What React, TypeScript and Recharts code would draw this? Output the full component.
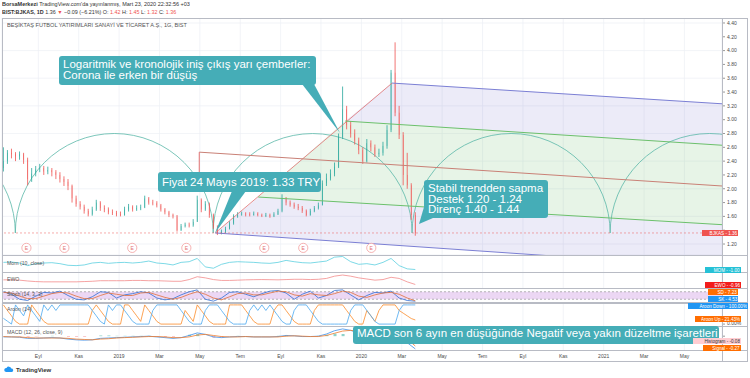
import React from "react";
import {
  ComposedChart,
  Bar,
  Line,
  Area,
  XAxis,
  YAxis,
  CartesianGrid,
  ReferenceLine,
  ReferenceArea,
  ReferenceDot,
  Cell,
} from "recharts";

const FONT = "'Liberation Sans', Arial, sans-serif";

// time axis in months counted from Jan 2018 (8 = Eyl 2018)
const X_DOMAIN: [number, number] = [6.2, 41.86];
const monthTicks = [8, 10, 12, 14, 16, 18, 20, 22, 24, 26, 28, 30, 32, 34, 36, 38, 40];
const monthLabels = ["Eyl", "Kas", "2019", "Mar", "May", "Tem", "Eyl", "Kas", "2020", "Mar", "May", "Tem", "Eyl", "Kas", "2021", "Mar", "May"];

const PRICE_DOMAIN: [number, number] = [1.041, 4.472];
const priceTicks = [1.2, 1.4, 1.6, 1.8, 2.0, 2.2, 2.4, 2.6, 2.8, 3.0, 3.2, 3.4, 3.6, 3.8, 4.0, 4.2, 4.4];
const lastPrice = 1.36;

// candles, one every 0.2 month; open = previous close
const candleStart = 6.27;
const candleStep = 0.2;
const firstOpen = 2.3;
const closes = [
  2.4, 2.52, 2.5, 2.47, 2.5, 2.42, 2.14, 2.22, 2.28, 2.3,
  2.25, 2.27, 2.24, 2.2, 2.14, 2.1, 2.04, 1.86, 1.78, 1.74,
  1.68, 1.63, 1.7, 1.8, 1.72, 1.7, 1.66, 1.65, 1.63, 1.62,
  1.7, 1.74, 1.7, 1.72, 1.73, 1.86, 1.8, 1.79, 1.76, 1.7,
  1.66, 1.62, 1.6, 1.4, 1.46, 1.48, 1.47, 1.52, 1.84, 1.7,
  1.78, 1.62, 1.45, 1.36, 1.38, 1.42, 1.5, 1.6, 1.63, 1.64,
  1.63, 1.62, 1.64, 1.62, 1.61, 1.62, 1.6, 1.63, 1.68, 1.86,
  1.8, 1.77, 1.74, 1.72, 1.68, 1.62, 1.68, 1.72, 1.76, 2.08,
  2.15, 2.22, 2.32, 2.75, 3.15, 2.92, 2.8, 2.7, 2.56, 2.4,
  2.66, 2.6, 2.5, 2.52, 2.62, 2.85, 3.68, 3.1, 2.78, 2.2,
  2.05, 1.62, 1.36,
];
const highs = [
  2.6, 2.56, 2.58, 2.53, 2.54, 2.52, 2.45, 2.3, 2.33, 2.36,
  2.33, 2.32, 2.3, 2.27, 2.24, 2.18, 2.14, 2.06, 1.9, 1.82,
  1.77, 1.71, 1.74, 1.84, 1.82, 1.76, 1.73, 1.7, 1.68, 1.67,
  1.74, 1.78, 1.76, 1.76, 1.77, 1.9, 1.88, 1.84, 1.82, 1.78,
  1.72, 1.68, 1.64, 1.62, 1.49, 1.51, 1.51, 1.56, 1.9, 1.86,
  1.82, 1.8, 1.64, 1.47, 1.41, 1.45, 1.53, 1.63, 1.66, 1.67,
  1.66, 1.66, 1.67, 1.66, 1.64, 1.65, 1.64, 1.66, 1.71, 1.92,
  1.88, 1.83, 1.8, 1.78, 1.75, 1.7, 1.71, 1.75, 1.8, 2.12,
  2.22, 2.28, 2.38, 2.8, 3.48, 3.2, 2.98, 2.86, 2.74, 2.6,
  2.72, 2.7, 2.64, 2.58, 2.68, 2.92, 3.72, 4.12, 3.2, 2.82,
  2.52, 2.08, 1.66,
];
const lows = [
  2.25, 2.36, 2.44, 2.4, 2.42, 2.36, 2.05, 2.1, 2.18, 2.24,
  2.2, 2.21, 2.18, 2.14, 2.09, 2.04, 1.98, 1.8, 1.74, 1.7,
  1.64, 1.6, 1.61, 1.68, 1.68, 1.66, 1.63, 1.62, 1.6, 1.6,
  1.61, 1.67, 1.67, 1.68, 1.69, 1.72, 1.77, 1.76, 1.73, 1.67,
  1.63, 1.59, 1.57, 1.38, 1.39, 1.44, 1.44, 1.45, 1.52, 1.66,
  1.68, 1.58, 1.42, 1.33, 1.34, 1.36, 1.41, 1.48, 1.58, 1.61,
  1.6, 1.6, 1.61, 1.6, 1.59, 1.59, 1.58, 1.59, 1.62, 1.66,
  1.76, 1.74, 1.71, 1.69, 1.65, 1.6, 1.61, 1.66, 1.7, 1.76,
  2.04, 2.12, 2.18, 2.3, 2.72, 2.86, 2.74, 2.64, 2.5, 2.36,
  2.38, 2.54, 2.46, 2.46, 2.48, 2.58, 2.82, 3.05, 2.72, 2.05,
  2.0, 1.55, 1.32,
];

// indicators, one every 0.4 month
const indStart = 6.27;
const indStep = 0.4;
const mom = [
  0.1, 0.15, 0, -0.4, -0.1, 0, 0.05, -0.1, -0.35, -0.4,
  -0.3, 0, 0.1, -0.05, 0.05, 0.1, 0, 0.1, 0.3, 0,
  -0.1, -0.3, 0.1, 0.2, 0.7, -0.6, -0.8, -0.2, 0.1, 0.2,
  0.15, 0.1, 0, -0.05, 0.1, 0.4, 0.2, 0.05, 0, 0.15,
  0.3, 0.9, 1.0, 0.2, -0.2, -0.1, -0.3, 0.1, 0.7, -0.4,
  -0.9, -1.0,
];
const ewo = [
  -0.15, -0.15, -0.2, -0.35, -0.45, -0.5, -0.5, -0.5, -0.5, -0.5,
  -0.45, -0.4, -0.3, -0.3, -0.3, -0.3, -0.25, -0.25, -0.3, -0.3,
  -0.35, -0.4, -0.4, -0.1, 0.4, 0.2, -0.1, -0.25, -0.25, -0.2,
  -0.15, -0.12, -0.1, -0.12, -0.15, -0.1, -0.05, -0.05, -0.1, -0.05,
  0.1, 0.5, 0.7, 0.5, 0.2, 0, -0.2, -0.1, 0.3, 0.1,
  -0.5, -0.96,
];
const stochK = [
  80, 60, 20, 10, 45, 75, 70, 85, 50, 20,
  15, 40, 80, 75, 30, 55, 65, 80, 70, 30,
  15, 25, 55, 80, 95, 20, 5, 30, 75, 80,
  60, 40, 65, 85, 90, 70, 20, 60, 85, 30,
  50, 90, 95, 55, 15, 50, 75, 70, 85, 30,
  10, 4.53,
];
const stochD = [
  75, 70, 45, 25, 25, 45, 65, 75, 70, 45,
  25, 25, 50, 70, 60, 50, 50, 70, 75, 55,
  35, 20, 35, 60, 80, 60, 30, 15, 40, 65,
  70, 55, 55, 70, 85, 80, 55, 45, 65, 55,
  50, 65, 85, 75, 45, 35, 55, 70, 75, 60,
  30, 7.23,
];
const macdLine = [
  -0.02, -0.02, -0.03, -0.06, -0.06, -0.05, -0.04, -0.05, -0.08, -0.1,
  -0.11, -0.1, -0.06, -0.05, -0.04, -0.03, -0.02, -0.01, 0, -0.02,
  -0.04, -0.06, -0.04, 0.02, 0.09, 0.05, -0.02, -0.04, -0.02, -0.01,
  -0.01, -0.02, -0.02, -0.02, -0.01, 0.02, 0.01, -0.01, -0.01, 0,
  0.06, 0.15, 0.2, 0.16, 0.08, 0.02, 0, 0, 0.06, 0,
  -0.18, -0.35,
];
const signalLine = [
  -0.01, -0.02, -0.02, -0.04, -0.05, -0.05, -0.05, -0.05, -0.06, -0.08,
  -0.09, -0.1, -0.08, -0.07, -0.05, -0.04, -0.03, -0.02, -0.01, -0.01,
  -0.02, -0.04, -0.04, -0.02, 0.03, 0.05, 0.02, -0.01, -0.02, -0.02,
  -0.01, -0.02, -0.02, -0.02, -0.02, 0, 0.01, 0, -0.01, -0.01,
  0.02, 0.08, 0.14, 0.16, 0.13, 0.08, 0.04, 0.02, 0.03, 0.02,
  -0.08, -0.27,
];
const histogram = [
  -0.01, 0, -0.01, -0.02, -0.01, 0, 0.01, 0, -0.02, -0.02,
  -0.02, 0, 0.02, 0.02, 0.01, 0.01, 0.01, 0.01, 0.01, -0.01,
  -0.02, -0.02, 0, 0.04, 0.06, 0, -0.04, -0.03, 0, 0.01,
  0, 0, 0, 0, 0.01, 0.02, 0, -0.01, 0, 0.01,
  0.04, 0.07, 0.06, 0, -0.05, -0.06, -0.04, -0.02, 0.03, -0.02,
  -0.1, -0.08,
];
// Aroon (14), same spacing as candles
const aroonUp = [
  100, 71, 43, 14, 0, 0, 0, 100, 71, 43,
  14, 0, 0, 0, 0, 0, 0, 0, 0, 0,
  0, 0, 71, 100, 71, 43, 14, 0, 0, 0,
  100, 100, 71, 43, 14, 100, 71, 43, 14, 0,
  0, 0, 0, 0, 0, 71, 43, 14, 100, 71,
  43, 14, 0, 0, 0, 0, 100, 100, 100, 100,
  71, 43, 14, 0, 0, 0, 0, 71, 100, 100,
  71, 43, 14, 0, 0, 0, 0, 71, 100, 100,
  100, 100, 100, 100, 100, 71, 43, 14, 0, 0,
  71, 43, 14, 71, 100, 100, 100, 100, 71, 57,
  43, 29, 21.43,
];
const aroonDown = [
  30, 15, 0, 100, 71, 43, 100, 71, 43, 14,
  100, 71, 100, 71, 100, 100, 100, 100, 100, 100,
  100, 100, 71, 43, 14, 0, 100, 71, 100, 100,
  71, 43, 14, 0, 0, 0, 0, 71, 100, 100,
  100, 100, 100, 100, 71, 43, 14, 0, 0, 0,
  71, 100, 100, 100, 71, 43, 14, 0, 0, 0,
  0, 71, 100, 71, 100, 71, 100, 71, 43, 14,
  0, 0, 71, 100, 100, 100, 71, 43, 14, 0,
  0, 0, 0, 0, 0, 0, 71, 100, 100, 100,
  71, 43, 14, 0, 0, 0, 0, 0, 71, 100,
  100, 100, 100,
];

// half circles (time cycles)
const arcFeet = [-3.0, 6.86, 16.66, 26.51, 36.32, 46.17];
const arcBase = 1.36;
const arcTop = 2.8;

// earnings dates
const earnings = [7.41, 9.29, 12.65, 15.33, 19.19, 21.12, 24.49];
const earningsLevel = 1.144;

// fib channel drawn from the May 2019 low to the Feb 2020 top
const diagonal = [[16.76, 1.36], [25.52, 3.53]];
const topLine = [[25.52, 3.53], [41.86, 3.23]];
const upperGreen = [[23.2, 2.98], [41.86, 2.63]];
const midRed = [[15.97, 2.53], [41.86, 2.04]];
const startRed = [[15.97, 2.53], [15.97, 2.0]];
const lowerGreen = [[18.89, 1.88], [41.86, 1.48]];
const bottomLine = [[16.76, 1.36], [41.86, 0.86]];
const topBand = [[23.2, 2.98, 2.98], [25.52, 2.936, 3.53], [41.86, 2.63, 3.23]];
const middleBand = [[18.89, 1.88, 1.88], [23.2, 1.805, 2.98], [41.86, 1.48, 2.63]];
const bottomBand = [[16.76, 1.36, 1.36], [18.89, 1.318, 1.88], [41.86, 0.86, 1.48]];

const toPts = (pts: number[][]) => pts.map(([m, v]) => ({ m, v }));
const toBand = (pts: number[][]) => pts.map(([m, lo, hi]) => ({ m, v: [lo, hi] }));

const candles = closes.map((close, i) => {
  const open = i === 0 ? firstOpen : closes[i - 1];
  return { m: candleStart + i * candleStep, open, close, range: [lows[i], highs[i]] };
});

const indRows = mom.map((v, j) => ({
  m: indStart + j * indStep,
  mom: v,
  ewo: ewo[j],
  k: stochK[j],
  d: stochD[j],
  macd: macdLine[j],
  signal: signalLine[j],
  hist: histogram[j],
}));

const aroonRows = aroonUp.map((u, i) => ({ m: candleStart + i * candleStep, up: u, down: aroonDown[i] }));

const UP = "#26a69a";
const DOWN = "#ef5350";
const TEAL = "#45adb7";

function Candle(props: any) {
  const { x, y, width, height, payload } = props;
  const top = Math.min(y, y + height);
  const h = Math.abs(height);
  const [lo, hi] = payload.range;
  const toY = (v: number) => top + ((hi - v) / (hi - lo)) * h;
  const color = payload.close >= payload.open ? UP : DOWN;
  const b1 = toY(Math.max(payload.open, payload.close));
  const b2 = toY(Math.min(payload.open, payload.close));
  const cx = x + width / 2;
  return (
    <g>
      <line x1={cx} x2={cx} y1={top} y2={top + h} stroke={color} strokeWidth={0.8} />
      <rect x={x} y={b1} width={width} height={Math.max(b2 - b1, 0.8)} fill={color} />
    </g>
  );
}

function HalfCircle(props: any) {
  const { x, y, width, height, clipPath } = props;
  return (
    <path
      d={`M${x},${y + height} A${width / 2},${height} 0 0 1 ${x + width},${y + height}`}
      fill="none"
      stroke="#5bb8a8"
      strokeWidth={0.8}
      clipPath={clipPath}
    />
  );
}

function EarningsMark(props: any) {
  const { cx, cy } = props;
  return (
    <g>
      <circle cx={cx} cy={cy} r={4.6} fill="#fff" stroke="#f2a0a0" strokeWidth={0.8} />
      <text x={cx} y={cy + 1.8} textAnchor="middle" fontSize={5} fill="#e57373" fontFamily={FONT}>
        E
      </text>
    </g>
  );
}

const axisTick = { fontSize: 5, fill: "#4a4a4a", fontFamily: FONT };
const margin = { top: 0, right: 0, bottom: 0, left: 2 };

// tiny text is drawn at double size and scaled down so its width is not rounded
function Tiny({ left, top, size, color = "#555", weight, children }: any) {
  return (
    <div
      style={{
        position: "absolute",
        left,
        top,
        fontSize: size * 2,
        lineHeight: 1.2,
        color,
        fontWeight: weight,
        whiteSpace: "nowrap",
        transform: "scale(0.5)",
        transformOrigin: "0 0",
      }}
    >
      {children}
    </div>
  );
}

function Badge({ left, top, width, bg, color = "#fff", children }: any) {
  return (
    <div style={{ position: "absolute", left, top, width, height: 6, background: bg, overflow: "hidden" }}>
      <div
        style={{
          position: "absolute",
          right: 1,
          top: 0,
          fontSize: 9.2,
          lineHeight: "12px",
          color,
          whiteSpace: "nowrap",
          transform: "scale(0.5)",
          transformOrigin: "100% 0",
        }}
      >
        {children}
      </div>
    </div>
  );
}

function Callout({ left, top, width, height, lineHeight = 11, padTop = 3, children }: any) {
  return (
    <div
      style={{
        position: "absolute",
        left,
        top,
        width,
        height,
        background: TEAL,
        borderRadius: 3,
        color: "#fff",
        fontSize: 11.5,
        lineHeight: `${lineHeight}px`,
        padding: `${padTop}px 4px 0 4px`,
        boxSizing: "border-box",
        whiteSpace: "nowrap",
      }}
    >
      {children}
    </div>
  );
}

const hLine = (top: number, h = 1) => (
  <div style={{ position: "absolute", left: 2, top, width: 746, height: h, background: "#b8bbc4" }} />
);

export default function App() {
  return (
    <div
      style={{
        position: "absolute",
        left: 0,
        top: 0,
        width: 750,
        height: 378,
        background: "#fff",
        fontFamily: FONT,
        overflow: "hidden",
      }}
    >
      <Tiny left={2} top={1} size={5.5} color="#333">
        <b>BorsaMerkezi</b> TradingView.com'da yayınlanmış, Mart 23, 2020 22:32:56 +03
      </Tiny>
      <Tiny left={2} top={9} size={5.4} color="#333">
        <b>BIST:BJKAS, 1D</b> 1.36 <span style={{ color: DOWN }}>▼</span> −0.09 (−6.21%) O: <span style={{ color: DOWN }}>1.42</span> H:{" "}
        <span style={{ color: DOWN }}>1.45</span> L: <span style={{ color: DOWN }}>1.32</span> C: <span style={{ color: DOWN }}>1.36</span>
      </Tiny>

      {/* main price pane */}
      <div style={{ position: "absolute", left: 0, top: 18 }}>
        <ComposedChart width={750} height={237} data={candles} margin={margin}>
          <CartesianGrid stroke="#eceff5" strokeWidth={0.7} />
          <XAxis type="number" dataKey="m" domain={X_DOMAIN} allowDataOverflow ticks={monthTicks} hide />
          <YAxis
            orientation="right"
            width={28}
            domain={PRICE_DOMAIN}
            allowDataOverflow
            ticks={priceTicks}
            tick={axisTick}
            tickFormatter={(v: number) => (Math.abs(v - 1.4) < 0.01 ? "" : v.toFixed(2))}
            tickSize={3}
            tickLine={{ stroke: "#999" }}
            axisLine={false}
          />
          <Area data={toBand(topBand)} dataKey="v" type="linear" fill="#7a6fd0" fillOpacity={0.14} stroke="none" isAnimationActive={false} />
          <Area data={toBand(middleBand)} dataKey="v" type="linear" fill="#7cc47c" fillOpacity={0.18} stroke="none" isAnimationActive={false} />
          <Area data={toBand(bottomBand)} dataKey="v" type="linear" fill="#7a6fd0" fillOpacity={0.14} stroke="none" isAnimationActive={false} />
          {arcFeet.slice(0, -1).map((foot, i) => (
            <ReferenceArea key={`arc${i}`} x1={foot} x2={arcFeet[i + 1]} y1={arcBase} y2={arcTop} ifOverflow="hidden" shape={HalfCircle} />
          ))}
          <Line data={toPts(diagonal)} dataKey="v" stroke="#e07070" strokeWidth={0.8} dot={false} activeDot={false} isAnimationActive={false} />
          <Line data={toPts(topLine)} dataKey="v" stroke="#7b7fd4" strokeWidth={1} dot={false} activeDot={false} isAnimationActive={false} />
          <Line data={toPts(upperGreen)} dataKey="v" stroke="#6cc06c" strokeWidth={1} dot={false} activeDot={false} isAnimationActive={false} />
          <Line data={toPts(midRed)} dataKey="v" stroke="#c98076" strokeWidth={1} dot={false} activeDot={false} isAnimationActive={false} />
          <Line data={toPts(startRed)} dataKey="v" stroke="#e07070" strokeWidth={1} dot={false} activeDot={false} isAnimationActive={false} />
          <Line data={toPts(lowerGreen)} dataKey="v" stroke="#6cc06c" strokeWidth={1} dot={false} activeDot={false} isAnimationActive={false} />
          <Line data={toPts(bottomLine)} dataKey="v" stroke="#7b7fd4" strokeWidth={1} dot={false} activeDot={false} isAnimationActive={false} />
          <ReferenceLine y={lastPrice} stroke={DOWN} strokeOpacity={0.6} strokeDasharray="2 2" strokeWidth={0.8} />
          <Bar dataKey="range" barSize={3.2} shape={Candle} isAnimationActive={false} />
          {earnings.map((m) => (
            <ReferenceDot key={`e${m}`} x={m} y={earningsLevel} r={4.6} shape={EarningsMark} />
          ))}
        </ComposedChart>
      </div>

      {/* Mom */}
      <div style={{ position: "absolute", left: 0, top: 255 }}>
        <ComposedChart width={750} height={17} data={indRows} margin={margin}>
          <CartesianGrid stroke="#eceff5" strokeWidth={0.7} horizontal={false} />
          <XAxis type="number" dataKey="m" domain={X_DOMAIN} allowDataOverflow ticks={monthTicks} hide />
          <YAxis orientation="right" width={28} domain={[-1.38, 1.23]} allowDataOverflow ticks={[0]} tick={axisTick} tickFormatter={() => "0.00"} tickSize={3} tickLine={{ stroke: "#999" }} axisLine={false} />
          <Line dataKey="mom" stroke="#5ccfe0" strokeWidth={0.8} dot={false} activeDot={false} isAnimationActive={false} />
        </ComposedChart>
      </div>

      {/* EWO */}
      <div style={{ position: "absolute", left: 0, top: 272 }}>
        <ComposedChart width={750} height={16} data={indRows} margin={margin}>
          <CartesianGrid stroke="#eceff5" strokeWidth={0.7} horizontal={false} />
          <XAxis type="number" dataKey="m" domain={X_DOMAIN} allowDataOverflow ticks={monthTicks} hide />
          <YAxis orientation="right" width={28} domain={[-1.58, 1.23]} allowDataOverflow ticks={[0]} tick={axisTick} tickFormatter={() => "0.00"} tickSize={3} tickLine={{ stroke: "#999" }} axisLine={false} />
          <Line dataKey="ewo" stroke="#f28b8b" strokeWidth={0.8} dot={false} activeDot={false} isAnimationActive={false} />
        </ComposedChart>
      </div>

      {/* Stoch */}
      <div style={{ position: "absolute", left: 0, top: 288 }}>
        <ComposedChart width={750} height={15} data={indRows} margin={margin}>
          <XAxis type="number" dataKey="m" domain={X_DOMAIN} allowDataOverflow ticks={monthTicks} hide />
          <YAxis orientation="right" width={28} domain={[-10, 110]} allowDataOverflow ticks={[]} axisLine={false} />
          <ReferenceArea y1={20} y2={80} fill="#c98de0" fillOpacity={0.35} stroke="none" />
          <ReferenceLine y={80} stroke="#888" strokeDasharray="2 2" strokeWidth={0.6} />
          <ReferenceLine y={20} stroke="#888" strokeDasharray="2 2" strokeWidth={0.6} />
          <Line dataKey="k" stroke="#2f6fd6" strokeWidth={0.8} dot={false} activeDot={false} isAnimationActive={false} />
          <Line dataKey="d" stroke="#e0703a" strokeWidth={0.8} dot={false} activeDot={false} isAnimationActive={false} />
        </ComposedChart>
      </div>

      {/* Aroon */}
      <div style={{ position: "absolute", left: 0, top: 303 }}>
        <ComposedChart width={750} height={23} data={aroonRows} margin={margin}>
          <CartesianGrid stroke="#eceff5" strokeWidth={0.7} horizontal={false} />
          <XAxis type="number" dataKey="m" domain={X_DOMAIN} allowDataOverflow ticks={monthTicks} hide />
          <YAxis orientation="right" width={28} domain={[-10, 110]} allowDataOverflow ticks={[0]} tick={axisTick} tickFormatter={() => "0.00%"} tickSize={3} tickLine={{ stroke: "#999" }} axisLine={false} />
          <Line dataKey="up" stroke="#fb8c2a" strokeWidth={0.8} dot={false} activeDot={false} isAnimationActive={false} />
          <Line dataKey="down" stroke="#4aa8f0" strokeWidth={0.8} dot={false} activeDot={false} isAnimationActive={false} />
        </ComposedChart>
      </div>

      {/* MACD + time axis */}
      <div style={{ position: "absolute", left: 0, top: 326 }}>
        <ComposedChart width={750} height={40} data={indRows} margin={margin}>
          <CartesianGrid stroke="#eceff5" strokeWidth={0.7} horizontal={false} />
          <XAxis
            type="number"
            dataKey="m"
            domain={X_DOMAIN}
            allowDataOverflow
            ticks={monthTicks}
            height={16}
            tick={axisTick}
            tickFormatter={(v: number) => monthLabels[monthTicks.indexOf(v)] ?? ""}
            tickLine={false}
            tickSize={0}
            tickMargin={4}
            axisLine={false}
          />
          <YAxis orientation="right" width={28} domain={[-0.38, 0.28]} allowDataOverflow ticks={[0]} tick={axisTick} tickFormatter={() => ""} tickSize={3} tickLine={{ stroke: "#999" }} axisLine={false} />
          <Bar dataKey="hist" barSize={3} isAnimationActive={false}>
            {indRows.map((r, j) => (
              <Cell key={j} fill={r.hist >= 0 ? "#8fd3ca" : "#f7b3b8"} />
            ))}
          </Bar>
          <Line dataKey="macd" stroke="#3d8fe8" strokeWidth={0.8} dot={false} activeDot={false} isAnimationActive={false} />
          <Line dataKey="signal" stroke="#f07b2c" strokeWidth={0.8} dot={false} activeDot={false} isAnimationActive={false} />
        </ComposedChart>
      </div>

      {/* frame and pane separators */}
      <div style={{ position: "absolute", left: 2, top: 18, width: 746, height: 344, border: "1px solid #b8bbc4", boxSizing: "border-box", pointerEvents: "none" }} />
      <div style={{ position: "absolute", left: 722, top: 18, width: 1, height: 344, background: "#b8bbc4" }} />
      {hLine(255)}
      {hLine(272)}
      {hLine(288)}
      {hLine(302, 2)}
      {hLine(326)}
      {hLine(350)}

      <Tiny left={7} top={22} size={5.6}>BEŞİKTAŞ FUTBOL YATIRIMLARI SANAYİ VE TİCARET A.Ş., 1G, BIST</Tiny>
      <Tiny left={7} top={260} size={5.2}>Mom (10, close)</Tiny>
      <Tiny left={7} top={276} size={5.2}>EWO</Tiny>
      <Tiny left={7} top={291} size={5.2}>Stoch (14, 3, 3)</Tiny>
      <Tiny left={7} top={306} size={5.2}>Aroon (14)</Tiny>
      <Tiny left={7} top={329} size={5.2}>MACD (12, 26, close, 9)</Tiny>

      {/* callouts */}
      <svg width={750} height={378} style={{ position: "absolute", left: 0, top: 0, pointerEvents: "none" }}>
        <polygon points="302,84 314,84 340,133" fill={TEAL} />
        <polygon points="232,191 246,191 215,233" fill={TEAL} />
        <polygon points="424,207 433,218 419,224" fill={TEAL} />
      </svg>
      <Callout left={59} top={56} width={257} height={29}>
        Logaritmik ve kronolojik iniş çıkış yarı çemberler:
        <br />
        Corona ile erken bir düşüş
      </Callout>
      <Callout left={158} top={172} width={163} height={20} lineHeight={14}>
        Fiyat 24 Mayıs 2019: 1.33 TRY
      </Callout>
      <Callout left={424} top={180} width={124} height={38} lineHeight={10.5}>
        Stabil trendden sapma
        <br />
        Destek 1.20 - 1.24
        <br />
        Direnç 1.40 - 1.44
      </Callout>
      <Callout left={353} top={326} width={366} height={18} lineHeight={11} padTop={2}>
        MACD son 6 ayın en düşüğünde Negatif veya yakın düzeltme işaretleri
      </Callout>

      <Badge left={702} top={230} width={36} bg={DOWN}>BJKAS - 1.36</Badge>
      <Badge left={705} top={267} width={36} bg="#26c1d6">MOM - -1.00</Badge>
      <Badge left={705} top={282} width={36} bg="#f21c1c">EWO - -0.96</Badge>
      <Badge left={708} top={289} width={30} bg="#ff6d00">SD - 7.23</Badge>
      <Badge left={708} top={296} width={30} bg="#2196f3">SK - 4.53</Badge>
      <Badge left={688} top={303} width={60} bg="#2196f3">Aroon Down - 100.00%</Badge>
      <Badge left={695} top={316} width={46} bg="#ff6d00">Aroon Up - 21.43%</Badge>
      <Badge left={693} top={338} width={48} bg="#ffcdd2" color="#333">Histogram - -0.08</Badge>
      <Badge left={703} top={345} width={38} bg="#ff6d00">Signal - -0.27</Badge>

      <div style={{ position: "absolute", left: 4, top: 366, display: "flex", alignItems: "center", gap: 2 }}>
        <svg width={10} height={7}>
          <path d="M2,6 a2,2 0 0 1 0.5,-4 a2.6,2.6 0 0 1 4.8,0.5 a1.8,1.8 0 0 1 0.7,3.5 z" fill="#2196f3" />
        </svg>
        <span style={{ fontSize: 6, color: "#333", fontWeight: 600 }}>TradingView</span>
      </div>
    </div>
  );
}
